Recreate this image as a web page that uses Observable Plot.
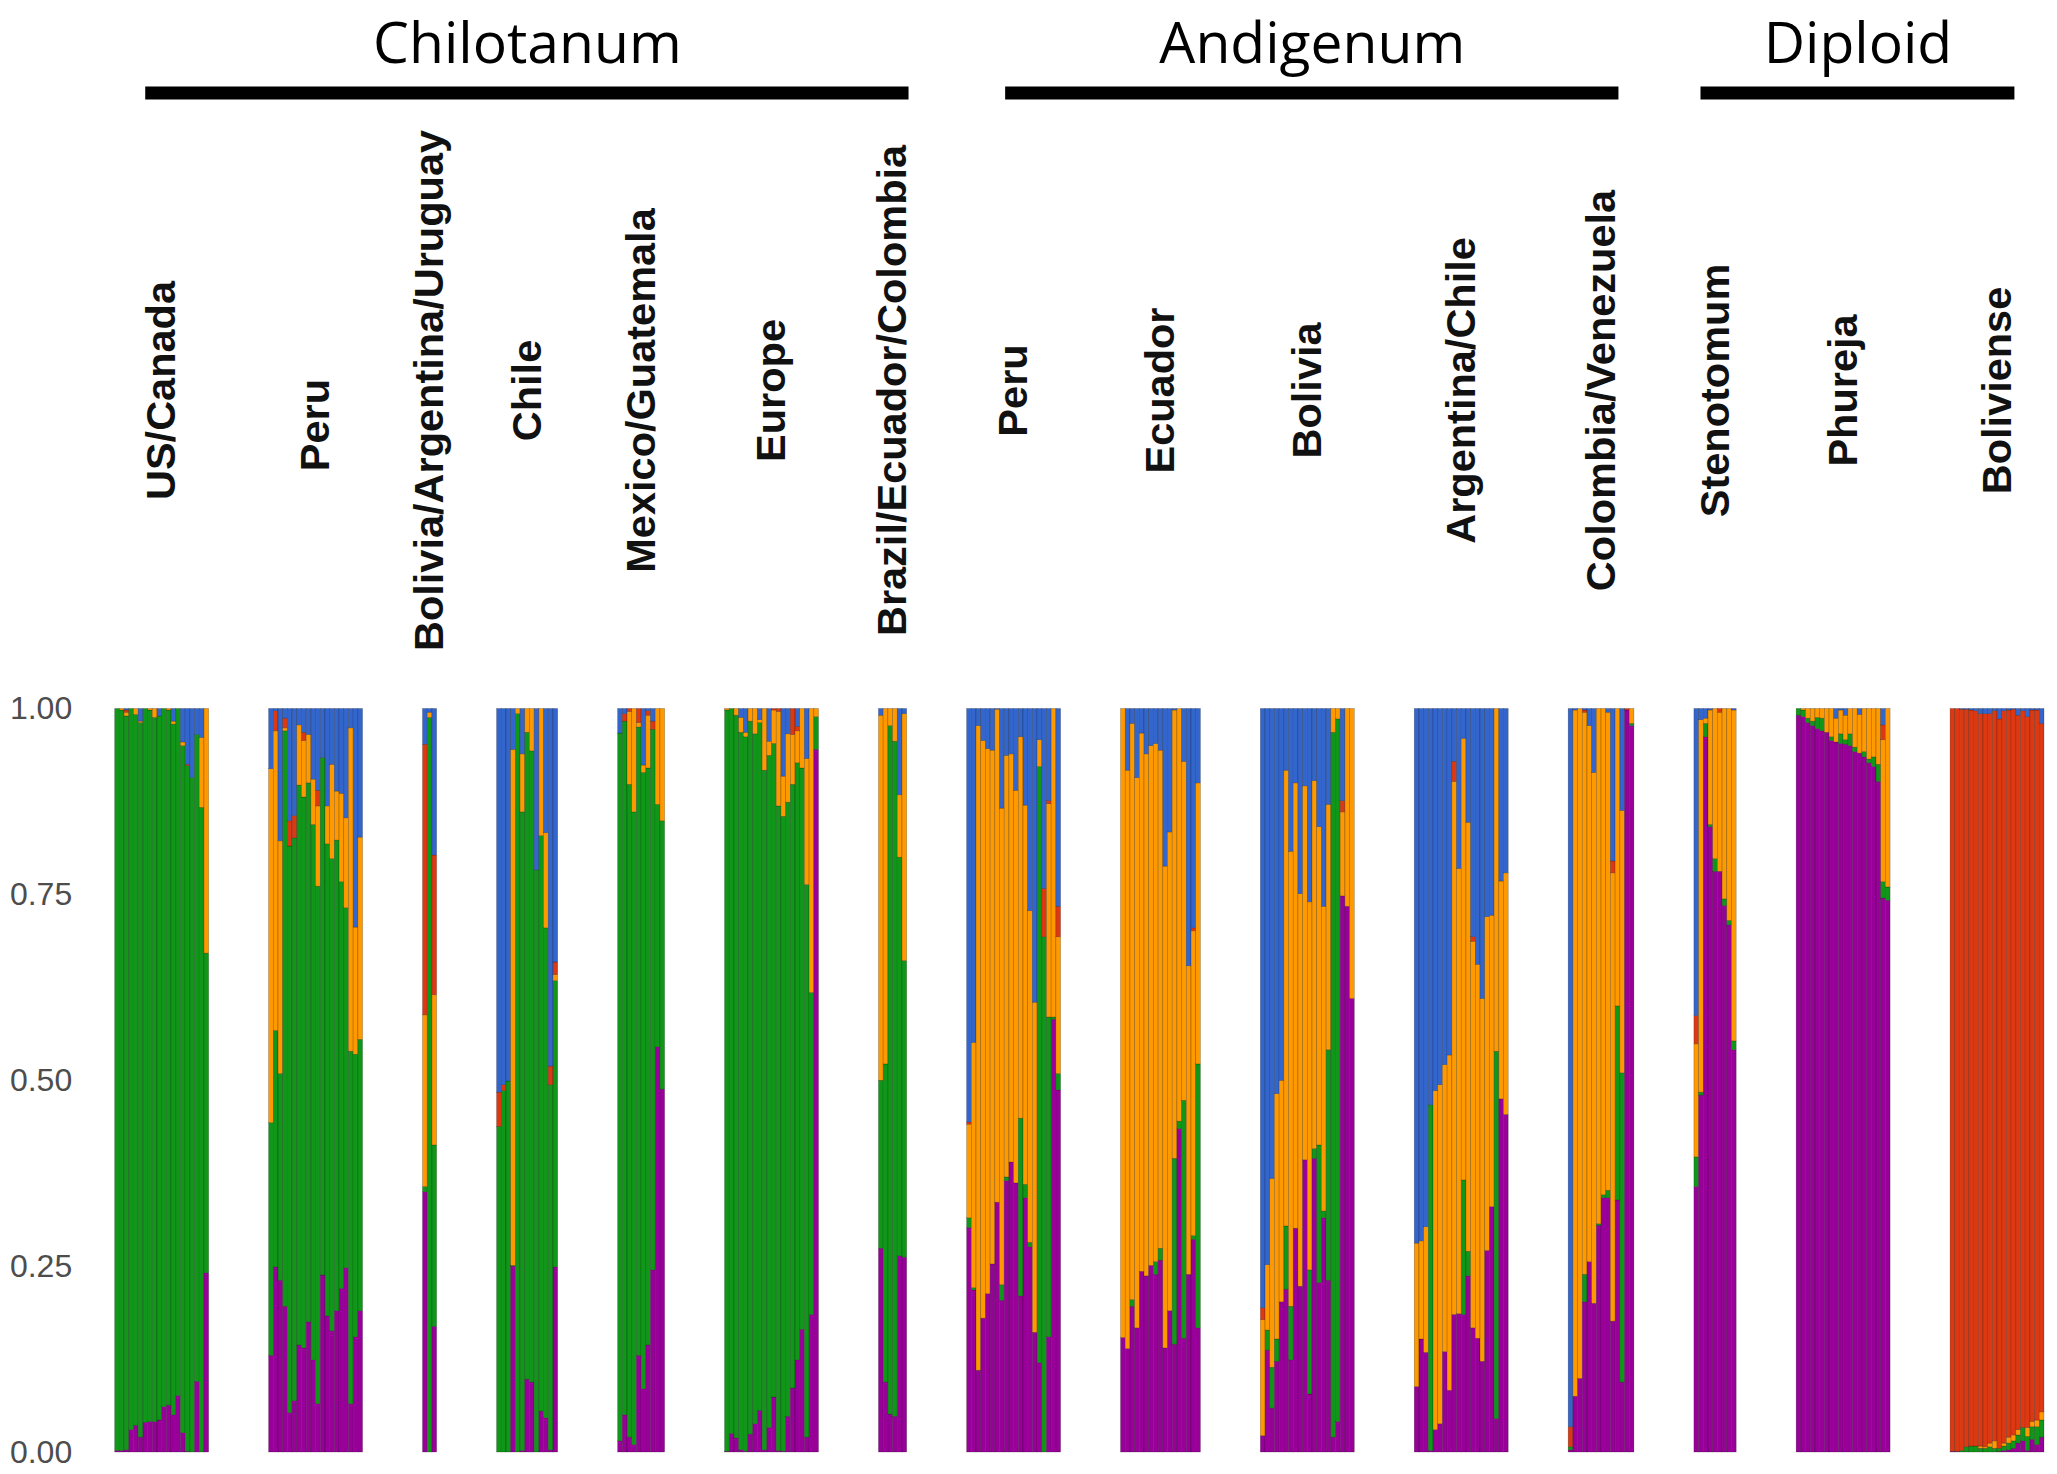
<!DOCTYPE html>
<html><head><meta charset="utf-8">
<script src="https://cdn.jsdelivr.net/npm/d3@7"></script>
<script src="https://cdn.jsdelivr.net/npm/@observablehq/plot@0.6"></script>
<style>html,body{margin:0;padding:0;background:#fff;} #chart svg{display:block}</style>
</head><body><div id="chart"></div>
<script>
// ---------- DATA ----------
const clusters = ["K1", "K2", "K3", "K4", "K5"];
const clusterColors = ["#990099", "#109618", "#FF9900", "#DC3912", "#3366CC"];
const groupNames = ["Chilotanum", "Andigenum", "Diploid"];
const groupFirstPanel = [0, 7, 12];
const groupLastPanel = [6, 11, 14];
const panelNames = ["US/Canada", "Peru\u00a0\u00a0\u00a0\u00a0\u00a0\u00a0", "Bolivia/Argentina/Uruguay", "Chile",
  "Mexico/Guatemala", "Europe", "Brazil/Ecuador/Colombia", "Peru", "Ecuador", "Bolivia",
  "Argentina/Chile", "Colombia/Venezuela", "Stenotomum", "Phureja", "Boliviense"];
const yTicks = [0, 0.25, 0.5, 0.75, 1];

// per individual: cumulative tops [K1 purple, K2 green, K3 orange, K4 red]; K5 blue fills to 1
const usCanada = [
  [0.002,1,1,1],[0.002,0.998,1,1],[0.003,0.990,0.995,0.998],[0.030,1,1,1],[0.036,0.992,1,1],
  [0.020,0.981,0.983,0.983],[0.040,1,1,1],[0.041,0.998,1,1],[0.041,0.988,1,1],[0.043,0.990,0.990,0.990],
  [0.061,1,1,1],[0.063,0.998,1,1],[0.050,0.979,0.983,0.983],[0.076,1,1,1],[0.026,0.950,0.955,0.955],
  [0.001,0.923,0.923,0.925],[0.000,0.907,0.907,0.907],[0.095,0.965,0.965,0.965],[0.000,0.867,0.961,0.961],[0.241,0.671,1,1]];
const peruChilotanum = [
  [0.130,0.443,0.919,0.919],[0.249,0.567,0.970,0.997],[0.231,0.509,0.822,0.822],[0.196,0.970,0.974,0.987],[0.053,0.815,0.815,0.849],
  [0.069,0.826,0.826,0.856],[0.144,0.897,0.978,0.978],[0.140,0.881,0.957,0.968],[0.175,0.900,0.965,0.965],[0.124,0.844,0.905,0.905],
  [0.065,0.761,0.869,0.890],[0.238,0.934,0.934,0.934],[0.183,0.818,0.869,0.869],[0.163,0.798,0.925,0.925],[0.190,0.823,0.889,0.889],
  [0.220,0.767,0.886,0.886],[0.248,0.732,0.853,0.853],[0.065,0.539,0.974,0.974],[0.155,0.535,0.706,0.706],[0.190,0.555,0.827,0.827]];
const boliviaArgUru = [
  [0.350,0.357,0.588,0.952],[0.000,0.988,0.995,0.995],[0.169,0.413,0.615,0.803]];
const chile = [
  [0.000,0.438,0.438,0.484],[0.000,0.486,0.486,0.494],[0.000,0.499,0.499,0.499],[0.250,0.251,0.945,0.945],[0.000,0.993,1,1],
  [0.002,0.861,0.939,0.939],[0.098,0.968,1,1],[0.094,0.943,1,1],[0.000,0.783,0.783,0.783],[0.055,0.829,1,1],
  [0.046,0.705,0.833,0.833],[0.003,0.494,0.494,0.519],[0.249,0.634,0.642,0.659]];
const mexicoGuatemala = [
  [0.015,0.967,0.967,0.967],[0.050,0.983,0.983,0.993],[0.020,0.898,0.996,1],[0.010,0.861,1,1],[0.130,0.975,0.981,1],
  [0.085,0.914,0.924,0.924],[0.144,0.920,0.991,0.997],[0.245,0.972,0.972,0.983],[0.545,0.871,1,1],[0.488,0.849,1,1]];
const europe = [
  [0.001,0.998,1,1],[0.025,1,1,1],[0.019,0.991,1,1],[0.003,0.968,0.988,0.988],[0.001,0.962,0.968,0.968],
  [0.024,0.983,1,1],[0.038,0.966,1,1],[0.056,0.981,0.985,0.985],[0.003,0.917,1,1],[0.033,0.937,0.956,0.956],
  [0.074,0.953,0.998,1],[0.002,0.869,0.996,1],[0.001,0.855,0.909,0.909],[0.048,0.874,0.966,0.966],[0.086,0.898,0.965,1],
  [0.124,0.927,0.970,0.976],[0.165,0.920,1,1],[0.020,0.763,0.933,0.933],[0.185,0.618,1,1],[0.945,0.989,1,1]];
const brazilEcuColombia = [
  [0.274,0.500,0.991,0.991],[0.094,0.522,1,1],[0.051,0.977,1,1],[0.048,0.956,1,1],[0.264,0.800,0.884,0.884],[0.262,0.661,0.993,0.993]];
const peruAndigenum = [
  [0.302,0.315,0.441,0.444],[0.218,0.221,0.551,0.551],[0.110,0.110,0.977,0.977],[0.180,0.180,0.957,0.957],[0.213,0.213,0.946,0.946],
  [0.253,0.253,0.944,0.944],[0.336,0.336,0.999,0.999],[0.204,0.225,0.866,0.866],[0.365,0.370,0.937,0.937],[0.390,0.390,0.939,0.939],
  [0.362,0.362,0.890,0.890],[0.210,0.449,0.962,0.962],[0.342,0.360,0.870,0.870],[0.276,0.282,0.728,0.728],[0.161,0.161,0.605,0.605],
  [0.120,0.922,0.958,0.958],[0.000,0.693,0.693,0.758],[0.155,0.585,0.872,0.876],[0.582,0.585,1,1],[0.487,0.509,0.693,0.734]];
const ecuador = [
  [0.154,0.154,1,1],[0.139,0.139,0.917,0.917],[0.196,0.205,0.980,0.980],[0.167,0.167,0.907,0.907],[0.243,0.243,0.967,0.967],
  [0.237,0.237,0.939,0.939],[0.251,0.251,0.950,0.950],[0.239,0.256,0.953,0.953],[0.258,0.274,0.944,0.944],[0.140,0.140,0.788,0.788],
  [0.190,0.190,0.834,0.834],[0.145,0.395,0.998,0.998],[0.435,0.445,1,1],[0.153,0.473,0.929,0.929],[0.239,0.239,0.654,0.654],
  [0.286,0.291,0.701,0.705],[0.167,0.522,0.900,0.900]];
const bolivia = [
  [0.022,0.022,0.178,0.194],[0.137,0.164,0.252,0.252],[0.059,0.114,0.368,0.368],[0.122,0.152,0.482,0.482],[0.202,0.202,0.500,0.500],
  [0.219,0.304,0.917,0.917],[0.124,0.196,0.808,0.808],[0.301,0.301,0.900,0.900],[0.223,0.223,0.751,0.751],[0.393,0.393,0.896,0.896],
  [0.078,0.245,0.740,0.740],[0.395,0.408,0.903,0.903],[0.228,0.413,0.841,0.841],[0.315,0.324,0.734,0.734],[0.231,0.541,0.871,0.871],
  [0.020,0.968,1,1],[0.041,0.986,1,1],[0.748,0.748,0.861,0.876],[0.734,0.734,1,1],[0.610,0.610,1,1]];
const argentinaChile = [
  [0.088,0.088,0.281,0.281],[0.152,0.152,0.284,0.284],[0.134,0.134,0.303,0.303],[0.002,0.467,0.467,0.467],[0.030,0.030,0.486,0.486],
  [0.038,0.038,0.494,0.494],[0.135,0.135,0.521,0.521],[0.083,0.083,0.534,0.534],[0.185,0.185,0.902,0.929],[0.186,0.186,0.785,0.785],
  [0.185,0.366,0.960,0.960],[0.237,0.270,0.847,0.847],[0.167,0.167,0.687,0.693],[0.153,0.153,0.656,0.656],[0.122,0.122,0.610,0.610],
  [0.271,0.271,0.720,0.720],[0.330,0.330,0.722,0.722],[0.045,0.539,1,1],[0.475,0.475,0.768,0.768],[0.454,0.454,0.779,0.779]];
const colombiaVenezuela = [
  [0.003,0.007,0.007,0.034],[0.075,0.075,0.998,0.998],[0.099,0.099,1,1],[0.202,0.239,0.995,0.998],[0.256,0.256,0.977,0.977],
  [0.200,0.200,0.914,0.914],[0.305,0.307,1,1],[0.342,0.346,1,1],[0.342,0.352,0.995,0.995],[0.176,0.176,0.779,0.795],
  [0.339,0.600,1,1],[0.094,0.510,0.863,0.863],[0.998,0.998,0.998,1],[0.977,0.980,1,1]];
const stenotomum = [
  [0.357,0.397,0.549,0.587],[0.480,0.484,0.985,0.985],[0.962,0.980,0.987,0.987],[0.841,0.844,0.998,0.998],[0.781,0.798,1,1],
  [0.781,0.781,0.995,1],[0.735,0.744,1,1],[0.709,0.715,1,1],[0.541,0.553,0.998,0.998]];
const phureja = [
  [0.991,1,1,1],[0.989,0.998,1,1],[0.981,0.987,1,1],[0.977,0.983,1,1],[0.973,0.988,1,1],
  [0.970,0.987,1,1],[0.968,0.968,1,1],[0.957,0.962,1,1],[0.955,0.955,0.987,0.987],[0.953,0.966,0.998,0.998],
  [0.952,0.958,0.991,0.991],[0.950,0.966,1,1],[0.942,0.948,1,1],[0.940,0.940,0.992,0.992],[0.935,0.942,1,1],
  [0.927,0.932,1,1],[0.922,0.935,1,1],[0.902,0.925,1,1],[0.745,0.767,0.958,0.978],[0.742,0.760,1,1]];
const boliviense = [
  [0.001,0.001,0.001,1],[0.001,0.001,0.001,1],[0.000,0.002,0.002,0.999],[0.000,0.007,0.007,0.999],[0.000,0.008,0.008,0.998],
  [0.000,0.008,0.008,0.997],[0.000,0.005,0.008,0.993],[0.000,0.005,0.007,0.993],[0.000,0.007,0.012,0.993],[0.000,0.005,0.015,0.997],
  [0.001,0.005,0.005,0.986],[0.002,0.008,0.012,0.997],[0.003,0.012,0.020,0.998],[0.005,0.015,0.023,0.999],[0.012,0.023,0.030,0.991],
  [0.015,0.033,0.033,0.997],[0.002,0.021,0.033,0.989],[0.017,0.034,0.041,0.998],[0.010,0.034,0.043,0.998],[0.020,0.043,0.054,0.980]];

const panelData = [usCanada, peruChilotanum, boliviaArgUru, chile, mexicoGuatemala, europe, brazilEcuColombia,
  peruAndigenum, ecuador, bolivia, argentinaChile, colombiaVenezuela, stenotomum, phureja, boliviense];

// ---------- LAYOUT ----------
const W = 2057, H = 1474;
const M = {top: 708.5, right: 13, bottom: 22, left: 114.7};
const GAP = 12.77; // facet spacing, in individual-bar units
const groupLineInset = [[6.5, -0.4], [8.2, 3.3], [1.4, 6.3]];
const yAt = (px) => (H - M.bottom - px) / (H - M.bottom - M.top); // header pixel row -> y value

// ---------- TABLES ----------
const rows = [];
const panelStart = [];
let pos = 0;
panelData.forEach((bars, p) => {
  panelStart.push(pos);
  bars.forEach((b, i) => {
    const tops = [...b, 1];
    let prev = 0;
    tops.forEach((t, k) => {
      const v = Math.max(0, t - prev);
      if (v > 0.0004) rows.push({panel: p, id: pos + i, x1: pos + i, x2: pos + i + 1, cluster: clusters[k], value: v});
      prev = Math.max(prev, t);
    });
  });
  pos += bars.length + GAP;
});
const total = pos - GAP;

const panelLabels = panelNames.map((name, p) => ({name, x: panelStart[p] + panelData[p].length / 2}));
const groupRows = groupNames.map((name, g) => {
  const x1 = panelStart[groupFirstPanel[g]] + groupLineInset[g][0];
  const x2 = panelStart[groupLastPanel[g]] + panelData[groupLastPanel[g]].length - groupLineInset[g][1];
  return {name, x1, x2, xm: (x1 + x2) / 2};
});

const chart = Plot.plot({
  width: W, height: H,
  marginTop: M.top, marginRight: M.right, marginBottom: M.bottom, marginLeft: M.left,
  x: {domain: [0, total], axis: null},
  y: {domain: [0, 1], axis: null},
  color: {domain: clusters, range: clusterColors},
  style: {background: "white", fontFamily: "'Liberation Sans', Arial, sans-serif"},
  marks: [
    Plot.rectY(rows, Plot.stackY({x1: "x1", x2: "x2", y: "value", fill: "cluster", order: clusters,
      stroke: "#000", strokeOpacity: 0.35, strokeWidth: 0.6})),
    Plot.axisY({ticks: yTicks, tickFormat: d3.format(".2f"), tickSize: 0, tickPadding: 43,
      fontSize: 32, color: "#4d4d4d", label: null}),
    Plot.text(panelLabels, {x: "x", y: () => yAt(390), text: "name", rotate: -90,
      fontSize: 41.5, fontWeight: "bold", fill: "#111", textAnchor: "middle", lineAnchor: "middle"}),
    Plot.ruleY(groupRows, {x1: "x1", x2: "x2", y: () => yAt(92.5), stroke: "#000", strokeWidth: 13}),
    Plot.text(groupRows, {x: "xm", y: () => yAt(62), text: "name", fontSize: 57,
      fontFamily: "'Open Sans', sans-serif", fill: "#000", lineAnchor: "bottom"})
  ]
});
document.getElementById("chart").appendChild(chart);
</script>
</body></html>
